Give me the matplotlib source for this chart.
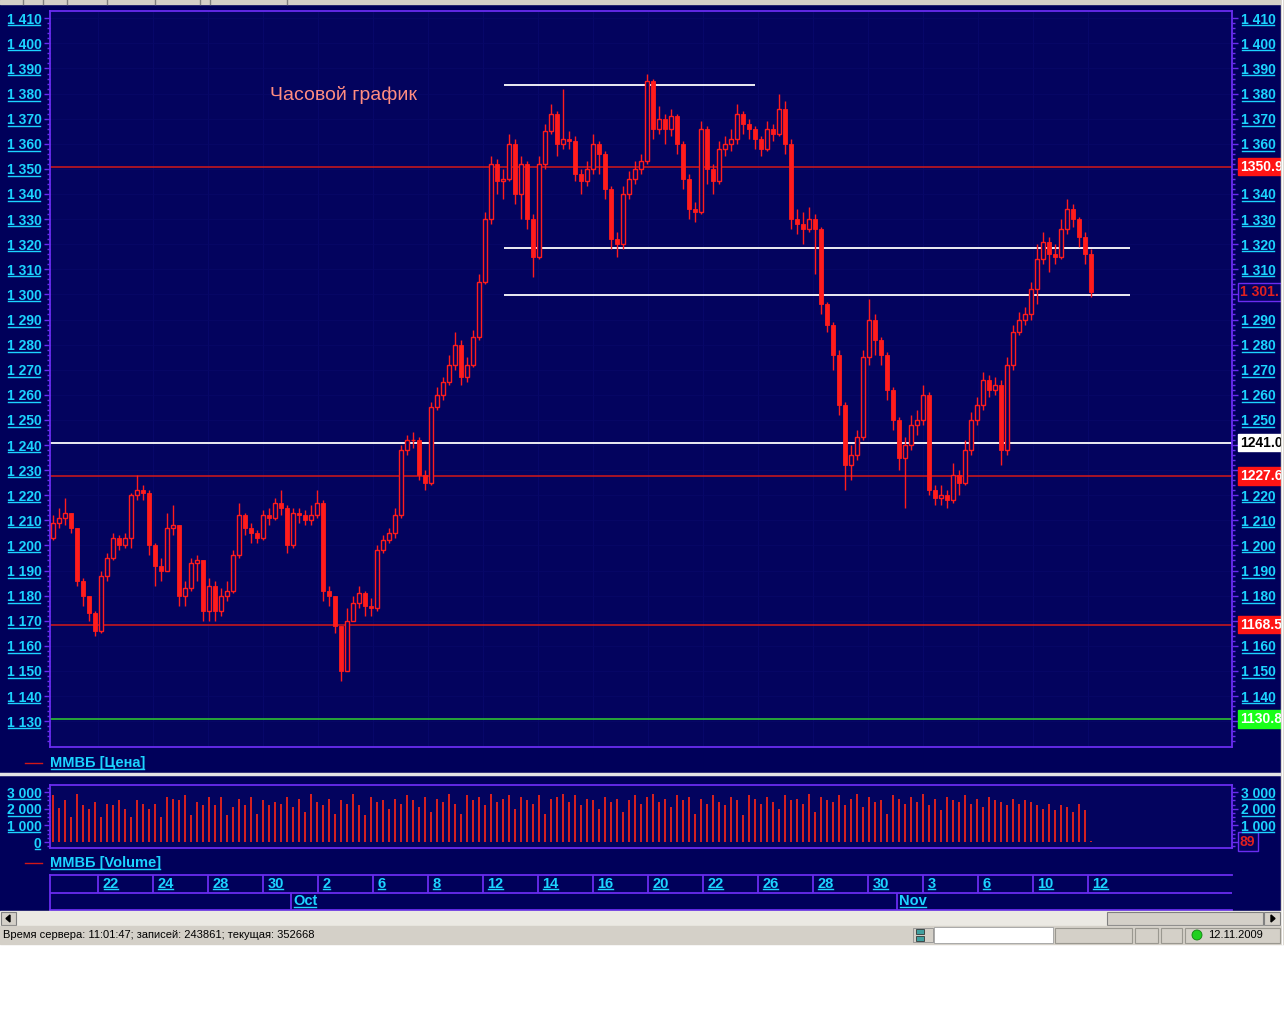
import numpy as np
import matplotlib
matplotlib.use("Agg")
import matplotlib.pyplot as plt
from matplotlib import transforms
from matplotlib.lines import Line2D
from matplotlib.patches import Rectangle, Polygon, Circle

# ---------------- data (hourly candles, MICEX index) ----------------
first_open = 1203
closes = [
    1209, 1211, 1213, 1207, 1186, 1180, 1173, 1166, 1188, 1195,
    1203, 1200, 1203, 1220, 1222, 1221, 1200, 1192, 1190, 1207,
    1208, 1180, 1183, 1193, 1194, 1174, 1184, 1174, 1180, 1182,
    1196, 1212, 1207, 1205, 1203, 1212, 1211, 1217, 1215, 1200,
    1213, 1212, 1210, 1212, 1217, 1182, 1180, 1168, 1150, 1170,
    1177, 1181, 1176, 1175, 1198, 1202, 1205, 1212, 1238, 1242,
    1242, 1228, 1225, 1255, 1260, 1265, 1272, 1280, 1267, 1272,
    1283, 1305, 1330, 1352, 1345, 1346, 1360, 1340, 1352, 1330,
    1315, 1352, 1365, 1372, 1360, 1362, 1361, 1348, 1345, 1350,
    1360, 1356, 1342, 1322, 1320, 1340, 1346, 1350, 1353, 1385,
    1366, 1370, 1366, 1371, 1360, 1346, 1334, 1333, 1366, 1350,
    1345, 1358, 1360, 1362, 1372, 1368, 1366, 1362, 1358, 1366,
    1364, 1374, 1360, 1330, 1328, 1326, 1330, 1326, 1296, 1288,
    1276, 1256, 1232, 1236, 1243, 1275, 1290, 1282, 1276, 1262,
    1250, 1235, 1240, 1248, 1250, 1260, 1222, 1219, 1220, 1218,
    1228, 1225, 1238, 1250, 1256, 1266, 1262, 1264, 1238, 1272,
    1285, 1290, 1292, 1302, 1314, 1321, 1316, 1315, 1326, 1334,
    1330, 1323, 1316, 1301]
highs = [
    1212, 1215, 1219, 1213, 1207, 1187, 1180, 1174, 1190, 1197,
    1205, 1204, 1205, 1221, 1228, 1224, 1222, 1201, 1195, 1213,
    1216, 1208, 1186, 1195, 1196, 1194, 1187, 1186, 1183, 1186,
    1198, 1217, 1213, 1209, 1206, 1214, 1215, 1219, 1222, 1216,
    1215, 1215, 1214, 1216, 1222, 1218, 1184, 1180, 1168, 1175,
    1180, 1184, 1182, 1179, 1200, 1204, 1207, 1215, 1240, 1244,
    1245, 1243, 1230, 1257, 1263, 1267, 1276, 1285, 1282, 1275,
    1286, 1308, 1333, 1355, 1354, 1350, 1364, 1362, 1355, 1353,
    1332, 1355, 1368, 1376, 1373, 1382, 1365, 1363, 1350, 1353,
    1364, 1361, 1357, 1343, 1325, 1343, 1349, 1353, 1356, 1388,
    1386, 1375, 1372, 1374, 1372, 1361, 1348, 1337, 1369, 1367,
    1352, 1361, 1363, 1366, 1376, 1373, 1370, 1367, 1363, 1369,
    1368, 1380, 1377, 1362, 1334, 1333, 1335, 1332, 1327, 1297,
    1289, 1278, 1257, 1240, 1246, 1278, 1298, 1292, 1283, 1277,
    1263, 1251, 1243, 1252, 1254, 1264, 1261, 1224, 1224, 1222,
    1233, 1230, 1242, 1253, 1259, 1269, 1268, 1267, 1266, 1275,
    1288, 1293, 1295, 1305, 1320, 1325, 1323, 1320, 1330, 1338,
    1336, 1331, 1325, 1318]
lows = [
    1202, 1207, 1208, 1205, 1184, 1176, 1170, 1164, 1165, 1186,
    1194, 1198, 1199, 1199, 1218, 1218, 1196, 1184, 1186, 1190,
    1204, 1176, 1176, 1182, 1186, 1170, 1170, 1170, 1172, 1178,
    1181, 1195, 1204, 1201, 1201, 1202, 1208, 1210, 1212, 1197,
    1199, 1209, 1208, 1208, 1211, 1178, 1176, 1165, 1146, 1150,
    1170, 1175, 1172, 1172, 1174, 1197, 1201, 1203, 1211, 1236,
    1239, 1226, 1222, 1224, 1254, 1258, 1264, 1270, 1264, 1265,
    1271, 1282, 1304, 1328, 1340, 1338, 1345, 1336, 1330, 1326,
    1307, 1314, 1350, 1364, 1355, 1358, 1358, 1345, 1340, 1343,
    1348, 1348, 1338, 1318, 1315, 1318, 1338, 1344, 1348, 1352,
    1362, 1364, 1360, 1363, 1356, 1342, 1330, 1329, 1332, 1344,
    1340, 1344, 1355, 1357, 1360, 1364, 1362, 1358, 1355, 1357,
    1361, 1363, 1356, 1326, 1324, 1320, 1325, 1308, 1292, 1285,
    1270, 1252, 1222, 1226, 1234, 1242, 1272, 1276, 1272, 1258,
    1246, 1230, 1215, 1238, 1244, 1248, 1220, 1216, 1216, 1215,
    1217, 1220, 1224, 1236, 1248, 1254, 1259, 1260, 1232, 1236,
    1270, 1284, 1288, 1290, 1296, 1312, 1309, 1312, 1314, 1324,
    1327, 1319, 1312, 1299]
volumes = [
    2800, 2050, 2500, 1500, 2900, 2200, 2000, 2400, 1500, 2300, 2200, 2500, 2000, 1500, 2500, 2300, 2000, 2300, 1500, 2700,
    2600, 2500, 2800, 1600, 2400, 2200, 2700, 2200, 2700, 1600, 2100, 2600, 2200, 2700, 1700, 2500, 2200, 2400, 2300, 2700,
    2100, 2600, 1800, 2900, 2400, 2200, 2600, 1700, 2500, 2300, 2900, 2200, 1600, 2700, 2400, 2500, 2000, 2600, 2300, 2800,
    2500, 2100, 2700, 1800, 2600, 2400, 2900, 2300, 1700, 2800, 2500, 2700, 2200, 2900, 2400, 2600, 2800, 2000, 2700, 2500,
    2300, 2800, 1700, 2600, 2700, 2900, 2400, 2800, 2200, 2600, 2500, 2000, 2700, 2400, 2600, 1800, 2500, 2800, 2300, 2700,
    2900, 2400, 2600, 2100, 2800, 2500, 2700, 1700, 2600, 2300, 2800, 2400, 2200, 2700, 2500, 1600, 2800, 2600, 2300, 2700,
    2400, 2000, 2800, 2500, 2600, 2300, 2900, 1800, 2700, 2500, 2400, 2800, 2200, 2600, 2900, 2100, 2700, 2400, 2500, 1700,
    2800, 2600, 2300, 2700, 2400, 2900, 2200, 2600, 1900, 2700, 2500, 2400, 2800, 2300, 2600, 2100, 2700, 2500, 2400, 2200,
    2600, 2300, 2500, 2400, 2200, 2000, 2300, 1900, 2200, 2100, 1800, 2300, 1900, 89]

price_ticks = list(range(1130, 1411, 10))
volume_ticks = [0, 1000, 2000, 3000]
# horizontal levels drawn across whole chart
level_values = [1350.9, 1241.0, 1227.6, 1168.5, 1130.8]
level_labels = ["1350.9", "1241.0", "1227.6", "1168.5", "1130.8"]
level_line_colors = ["#d41818", "#ffffff", "#d41818", "#d41818", "#30d030"]
level_tag_face = ["#ff1414", "#ffffff", "#ff1414", "#ff1414", "#18ff18"]
level_tag_text = ["white", "black", "white", "white", "white"]
# right-axis tick labels hidden behind the price tags
covered_right_ticks = [1350, 1300, 1240, 1230, 1170, 1130]
# partial white trend/support segments (price, start candle, end candle)
seg_values = [1383.5, 1318.5, 1299.8]
seg_start = [75.2, 75.2, 75.2]
seg_end = [117.0, 179.5, 179.5]
last_price_label = "1 301."
last_volume_label = "89"
day_labels = ["22", "24", "28", "30", "2", "6", "8", "12", "14", "16",
              "20", "22", "26", "28", "30", "3", "6", "10", "12"]
month_labels = ["Oct", "Nov"]
month_pos = [39.67, 140.67]
status_text = "Время сервера: 11:01:47; записей: 243861; текущая: 352668"
status_date = "12.11.2009"
chart_title = "Часовой график"

# ---------------- style ----------------
W, H = 1284, 1024
NAVY = "#00005a"
PLOT_BG = "#03035e"
PURPLE = "#6a2cf0"
CYAN = "#1cd4ff"
RED = "#ff1c1c"
FONT = ["Liberation Sans", "DejaVu Sans"]
plt.rcParams["font.family"] = FONT

fig = plt.figure(figsize=(W / 100, H / 100), dpi=100, facecolor="white")


def px_axes(x0, y0, x1, y1, **kw):
    return fig.add_axes([x0 / W, 1 - y1 / H, (x1 - x0) / W, (y1 - y0) / H], **kw)


underlined = []

# ---------- background overlay ----------
bg = px_axes(0, 0, W, H, zorder=0)
bg.set_xlim(0, W)
bg.set_ylim(H, 0)
bg.axis("off")
bg.add_patch(Rectangle((0, 0), 1281, 911, color=NAVY))
bg.add_patch(Rectangle((0, 0), 1281, 4, color="#d4d0c8"))
for sx in [23, 43, 67, 107, 155, 200, 210, 287]:
    bg.plot([sx, sx], [0, 4], color="#808080", lw=1)
bg.plot([0, 1281], [774, 774], color="#e4e4e4", lw=2.5)
# legends
bg.plot([25, 42], [763, 763], color="#d01818", lw=1)
underlined.append(bg.text(50, 763, "ММВБ [Цена]", color=CYAN, fontsize=10.5,
                          fontweight="bold", va="center", ha="left"))
bg.plot([25, 42], [863, 863], color="#d01818", lw=1)
underlined.append(bg.text(50, 863, "ММВБ [Volume]", color=CYAN, fontsize=10.5,
                          fontweight="bold", va="center", ha="left"))

# ---------- price panel ----------
n = len(closes)
idx = np.arange(n)
o = np.array([first_open] + closes[:-1], dtype=float)
c = np.array(closes, dtype=float)
hi = np.array(highs, dtype=float)
lo = np.array(lows, dtype=float)

XLIM = (-0.5, -0.5 + 1182 / 6)
ax = px_axes(50, 11, 1232, 747, zorder=2)
ax.set_facecolor(PLOT_BG)
ax.set_xlim(*XLIM)
ax.set_ylim(1119.7, 1412.9)

day_bounds = [7.5 + k * 55 / 6 for k in range(len(day_labels))]
for xb in day_bounds:
    ax.axvline(xb, color="#08086a", lw=0.7, zorder=0.5)
for yv in price_ticks:
    ax.axhline(yv, color="#070766", lw=0.7, zorder=0.5)

ax.vlines(idx, lo, hi, color=RED, lw=1, zorder=3)
up = c >= o
ax.bar(idx[up], (c - o)[up], bottom=o[up], width=0.55, facecolor=PLOT_BG,
       edgecolor=RED, lw=1, zorder=4)
ax.bar(idx[~up], (o - c)[~up], bottom=c[~up], width=0.55, color=RED,
       edgecolor=RED, lw=0.6, zorder=4)

for v, col in zip(level_values, level_line_colors):
    ax.axhline(v, color=col, lw=1.3 if col == "#ffffff" else 1.1, zorder=2)
ax.hlines(seg_values, seg_start, seg_end, color="white", lw=1.3, zorder=2)

ax.text((270 - 50) / 1182, 1 - (95 - 11) / 736, chart_title, transform=ax.transAxes,
        color="#ff8c80", fontsize=14, va="center", ha="left")

ax.set_yticks(price_ticks)
ax.set_yticklabels([f"{v // 1000} {v % 1000:03d}" for v in price_ticks])
ax.set_yticks(np.arange(1122, 1412, 2), minor=True)
ax.tick_params(axis="y", which="major", left=True, right=True, labelleft=True,
               labelright=True, direction="out", length=4.4, width=1,
               color=PURPLE, labelcolor=CYAN, labelsize=10, pad=1.8)
ax.tick_params(axis="y", which="minor", left=True, right=True, direction="out",
               length=2.2, width=1, color=PURPLE)
ax.tick_params(axis="x", which="both", bottom=False, labelbottom=False)
for v, t in zip(price_ticks, ax.yaxis.get_major_ticks()):
    t.label1.set_fontweight("bold")
    t.label2.set_fontweight("bold")
    underlined.append(t.label1)
    if v in covered_right_ticks:
        t.label2.set_visible(False)
    else:
        underlined.append(t.label2)
for s in ax.spines.values():
    s.set_color(PURPLE)
    s.set_linewidth(1.3)

trans = transforms.blended_transform_factory(ax.transAxes, ax.transData)
for v, lab, fc, tc in zip(level_values, level_labels, level_tag_face, level_tag_text):
    ax.text(1 + 8 / 1182, v, lab, transform=trans, color=tc, fontsize=10,
            fontweight="bold", va="center", ha="left", clip_on=False, zorder=20,
            bbox=dict(boxstyle="square,pad=0.12", fc=fc, ec=fc))
ax.text(1 + 8 / 1182, closes[-1], last_price_label, transform=trans, color="#e02020",
        fontsize=10, fontweight="bold", va="center", ha="left", clip_on=False, zorder=20,
        bbox=dict(boxstyle="square,pad=0.15", fc=PLOT_BG, ec=PURPLE, lw=1))

# ---------- volume panel ----------
vax = px_axes(50, 785, 1232, 848, zorder=2)
vax.set_facecolor(PLOT_BG)
vax.set_xlim(*XLIM)
vax.set_ylim(-360, 3420)
vax.bar(idx, volumes, width=0.34, color="#d42020", zorder=3)
vax.set_yticks(volume_ticks)
vax.set_yticklabels(["0" if v == 0 else f"{v // 1000} {v % 1000:03d}" for v in volume_ticks])
vax.set_yticks(np.arange(-250, 3401, 250), minor=True)
vax.tick_params(axis="y", which="major", left=True, right=True, labelleft=True,
                labelright=True, direction="out", length=4.4, width=1,
                color=PURPLE, labelcolor=CYAN, labelsize=10, pad=1.8)
vax.tick_params(axis="y", which="minor", left=True, right=True, direction="out",
                length=2.2, width=1, color=PURPLE)
vax.tick_params(axis="x", which="both", bottom=False, labelbottom=False)
for v, t in zip(volume_ticks, vax.yaxis.get_major_ticks()):
    t.label1.set_fontweight("bold")
    t.label2.set_fontweight("bold")
    underlined.append(t.label1)
    if v == 0:
        t.label2.set_visible(False)
    else:
        underlined.append(t.label2)
for s in vax.spines.values():
    s.set_color(PURPLE)
    s.set_linewidth(1.3)
vtrans = transforms.blended_transform_factory(vax.transAxes, vax.transData)
vax.text(1 + 8 / 1182, volumes[-1] - 60, last_volume_label, transform=vtrans, color="#e02020",
         fontsize=10, fontweight="bold", va="center", ha="left", clip_on=False, zorder=20,
         bbox=dict(boxstyle="square,pad=0.15", fc=PLOT_BG, ec=PURPLE, lw=1))

# ---------- date axis ----------
dax = px_axes(50, 875, 1232, 910, zorder=2)
dax.set_facecolor(NAVY)
dax.set_xlim(*XLIM)
dax.set_ylim(0, 2)
dax.set_xticks([])
dax.set_yticks([])
for k, s in dax.spines.items():
    s.set_color(PURPLE)
    s.set_linewidth(1.3)
dax.spines["right"].set_visible(False)
dax.axhline(1, color=PURPLE, lw=1.3)
dax.vlines(day_bounds, 1, 2, color=PURPLE, lw=1.3)
for xb, lab in zip(day_bounds, day_labels):
    underlined.append(dax.text(xb + 0.75, 1.5, lab, color=CYAN, fontsize=10.5,
                               fontweight="bold", va="center", ha="left"))
dax.vlines(month_pos, 0, 1, color=PURPLE, lw=1.3)
for xm, lab in zip(month_pos, month_labels):
    underlined.append(dax.text(xm + 0.35, 0.5, lab, color=CYAN, fontsize=10.5,
                               fontweight="bold", va="center", ha="left"))

# ---------- foreground overlay: scrollbar, status bar, window edge ----------
fg = px_axes(0, 0, W, H, zorder=30)
fg.set_xlim(0, W)
fg.set_ylim(H, 0)
fg.axis("off")
fg.patch.set_alpha(0)
fg.add_patch(Rectangle((1281, 0), 3, 944, color="#d4d0c8"))
fg.plot([1281.5, 1281.5], [0, 944], color="white", lw=1)
fg.add_patch(Rectangle((0, 911), 1281, 15, color="#ebe9e3"))
fg.add_patch(Rectangle((1, 912), 15, 13, fc="#d4d0c8", ec="#808080", lw=0.8))
fg.add_patch(Polygon([[6, 918.5], [10, 915], [10, 922]], color="black"))
fg.add_patch(Rectangle((1107, 912), 156, 13, fc="#d4d0c8", ec="#808080", lw=0.8))
fg.add_patch(Rectangle((1264, 912), 16, 13, fc="#d4d0c8", ec="#808080", lw=0.8))
fg.add_patch(Polygon([[1275, 918.5], [1271, 915], [1271, 922]], color="black"))
fg.add_patch(Rectangle((0, 926), 1281, 18, color="#d4d0c8"))
fg.text(3, 935.5, status_text, color="black", fontsize=8, va="center", ha="left")
fg.add_patch(Rectangle((913, 928), 20, 14, fc="#d4d0c8", ec="#909090", lw=0.6))
fg.add_patch(Rectangle((916, 929), 8, 5, fc="#40a0a0", ec="#202020", lw=0.5))
fg.add_patch(Rectangle((916, 936), 8, 5, fc="#40a0a0", ec="#202020", lw=0.5))
fg.add_patch(Rectangle((934, 927), 119, 16, fc="white", ec="#a0a0a0", lw=0.6))
for x0, x1 in [(1055, 1132), (1135, 1158), (1161, 1182), (1185, 1280)]:
    fg.add_patch(Rectangle((x0, 927.5), x1 - x0, 15, fc="#d4d0c8", ec="#9a9890", lw=0.8))
fg.add_patch(Circle((1197, 935), 5, fc="#20d020", ec="#108010", lw=0.6))
fg.text(1208, 935.5, status_date, color="black", fontsize=8, va="center", ha="left")

# ---------- underline cyan labels ----------
fig.canvas.draw()
renderer = fig.canvas.get_renderer()
for t in underlined:
    if not t.get_visible() or not t.get_text():
        continue
    bb = t.get_window_extent(renderer)
    y = bb.y0 + 1.5
    fig.add_artist(Line2D([bb.x0 + 1, bb.x1 - 1], [y, y], transform=transforms.IdentityTransform(),
                          color=CYAN, lw=1, zorder=25))

fig.savefig("out.png", dpi=100, facecolor="white")
